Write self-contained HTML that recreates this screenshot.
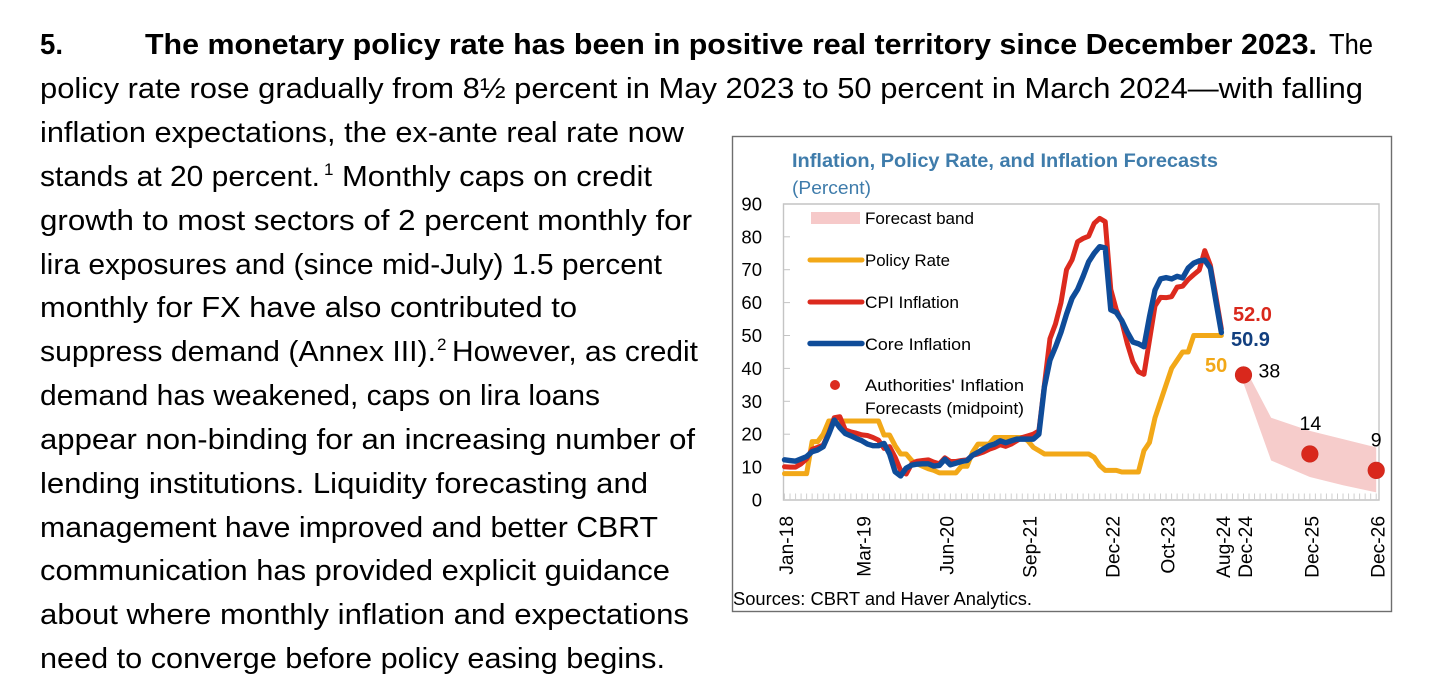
<!DOCTYPE html>
<html lang="en">
<head>
<meta charset="utf-8">
<title>Monetary policy rate paragraph and chart</title>
<style>
html,body{margin:0;padding:0;background:#fff;width:1456px;height:693px;overflow:hidden}
svg{display:block;position:absolute;left:0;top:0}
text{font-family:"Liberation Sans",sans-serif}
.b{font-size:29px;fill:#000}
.bb{font-size:29px;fill:#000;font-weight:bold}
.sup{font-size:17px;fill:#000}
.lg{font-size:16.8px;fill:#000}
.tk{font-size:18px;fill:#000}
</style>
</head>
<body>
<svg id="s" width="1456" height="693" viewBox="0 0 1456 693" xmlns="http://www.w3.org/2000/svg">
  <g>
    <text class="bb" x="40" y="54" textLength="23" lengthAdjust="spacingAndGlyphs">5.</text>
    <text class="bb" x="145" y="54" textLength="1172" lengthAdjust="spacingAndGlyphs">The monetary policy rate has been in positive real territory since December 2023.</text>
    <text class="b" x="1329" y="54" textLength="44" lengthAdjust="spacingAndGlyphs">The</text>
    <text class="b" x="40" y="98" textLength="1323" lengthAdjust="spacingAndGlyphs">policy rate rose gradually from 8½ percent in May 2023 to 50 percent in March 2024—with falling</text>
    <text class="b" x="40" y="142" textLength="644" lengthAdjust="spacingAndGlyphs">inflation expectations, the ex-ante real rate now</text>
    <text class="b" x="40" y="186" textLength="280" lengthAdjust="spacingAndGlyphs">stands at 20 percent.</text>
    <text class="sup" x="324" y="175">1</text>
    <text class="b" x="342" y="186" textLength="310" lengthAdjust="spacingAndGlyphs">Monthly caps on credit</text>
    <text class="b" x="40" y="230" textLength="652" lengthAdjust="spacingAndGlyphs">growth to most sectors of 2 percent monthly for</text>
    <text class="b" x="40" y="274" textLength="622" lengthAdjust="spacingAndGlyphs">lira exposures and (since mid-July) 1.5 percent</text>
    <text class="b" x="40" y="317" textLength="537" lengthAdjust="spacingAndGlyphs">monthly for FX have also contributed to</text>
    <text class="b" x="40" y="361" textLength="396" lengthAdjust="spacingAndGlyphs">suppress demand (Annex III).</text>
    <text class="sup" x="437" y="350">2</text>
    <text class="b" x="452" y="361" textLength="246" lengthAdjust="spacingAndGlyphs">However, as credit</text>
    <text class="b" x="40" y="405" textLength="560" lengthAdjust="spacingAndGlyphs">demand has weakened, caps on lira loans</text>
    <text class="b" x="40" y="449" textLength="655" lengthAdjust="spacingAndGlyphs">appear non-binding for an increasing number of</text>
    <text class="b" x="40" y="493" textLength="608" lengthAdjust="spacingAndGlyphs">lending institutions. Liquidity forecasting and</text>
    <text class="b" x="40" y="537" textLength="618" lengthAdjust="spacingAndGlyphs">management have improved and better CBRT</text>
    <text class="b" x="40" y="580" textLength="630" lengthAdjust="spacingAndGlyphs">communication has provided explicit guidance</text>
    <text class="b" x="40" y="624" textLength="649" lengthAdjust="spacingAndGlyphs">about where monthly inflation and expectations</text>
    <text class="b" x="40" y="668" textLength="625" lengthAdjust="spacingAndGlyphs">need to converge before policy easing begins.</text>
  </g>

  <rect x="732.5" y="136.5" width="659" height="475" fill="#fff" stroke="#6e6e6e" stroke-width="1.4"/>
  <text x="792" y="167" font-size="19.5" font-weight="bold" fill="#3f7cab" textLength="426" lengthAdjust="spacingAndGlyphs">Inflation, Policy Rate, and Inflation Forecasts</text>
  <text x="792" y="194" font-size="18.5" fill="#3f7cab" textLength="79" lengthAdjust="spacingAndGlyphs">(Percent)</text>

  <g id="plot"></g>

  <g>
    <rect x="811" y="212" width="49" height="12" fill="#f6c9c9"/>
    <text class="lg" x="865" y="224" textLength="109" lengthAdjust="spacingAndGlyphs">Forecast band</text>
    <line x1="810" y1="260" x2="862" y2="260" stroke="#f2a818" stroke-width="5" stroke-linecap="round"/>
    <text class="lg" x="865" y="266" textLength="85" lengthAdjust="spacingAndGlyphs">Policy Rate</text>
    <line x1="810" y1="302" x2="862" y2="302" stroke="#dc2a1e" stroke-width="5" stroke-linecap="round"/>
    <text class="lg" x="865" y="308" textLength="94" lengthAdjust="spacingAndGlyphs">CPI Inflation</text>
    <line x1="810" y1="343.5" x2="862" y2="343.5" stroke="#0f4c99" stroke-width="5.4" stroke-linecap="round"/>
    <text class="lg" x="865" y="350" textLength="106" lengthAdjust="spacingAndGlyphs">Core Inflation</text>
    <circle cx="835" cy="385" r="5" fill="#dc2a1e"/>
    <text class="lg" x="865" y="391" textLength="159" lengthAdjust="spacingAndGlyphs">Authorities' Inflation</text>
    <text class="lg" x="865" y="414" textLength="159" lengthAdjust="spacingAndGlyphs">Forecasts (midpoint)</text>
  </g>

  <text x="733" y="605" font-size="18" fill="#000" textLength="299" lengthAdjust="spacingAndGlyphs">Sources: CBRT and Haver Analytics.</text>
</svg>

<script>
var policyRate = [8,8,8,8,8,17.75,17.75,20,24,24,24,24,24,24,24,24,24,24,19.75,19.75,16.5,14,14,12,11,10.25,9.5,9,8.25,8.25,8.25,8.25,10.25,10.25,14.5,17,17,17,19,19,19,19,19,19,18,16,15,14,14,14,14,14,14,14,14,14,13,10.5,9,9,9,8.5,8.5,8.5,8.5,15,17.5,25,30,35,40,42.5,45,45,50,50,50,50,50,50];
var cpiInflation = [10.1,10,10,11,12.5,15.4,16,16.7,20.3,25,25.3,21.3,20.7,20.3,19.8,19.6,19,18.2,15.7,16.2,13,9,7.9,11,11.8,12,12.2,11.5,11,12.8,11.7,11.7,12,12.2,13.6,14,14.6,15.4,16,16.8,16.3,17,18,19,19.5,20,21,35,49,53.5,60,70,73,78.5,79.5,80.2,84.1,85.6,84.6,64,57.8,54.2,47.5,42,39,38.2,48.6,59,61.6,61.5,61.8,64.7,65,67,68.5,69.9,75.8,71.4,62,52];
var coreInflation = [12.2,12,11.8,12.5,13.2,14.7,15.2,16.2,20,24.3,22,20.2,19.5,18.7,18,17,16.5,16.5,17.2,14,8.6,7.3,9.7,10.6,10.9,11,11,10.3,10.5,12.4,10.7,11.2,11.7,12,13.6,14.5,15.5,16.5,17,18,17.4,18,18.5,18.5,18.5,18.5,20,34.4,42.5,46.5,51,56.5,61.3,64,68,72.4,75,77,76.6,57.8,57,54.5,51,48,47.5,46.6,55.7,63.8,67.2,67.6,67.2,68,67.5,70.5,72,72.7,72.9,70.5,60.5,50.9];
var bandMonths = [83,88,95,101,107];
var bandUpper = [41,25,21,18.5,16];
var bandLower = [35.5,12,7,4.5,2.3];
var forecastMonths = [83,95,107];
var forecastValues = [38,14,9];
var forecastLabels = ["38","14","9"];
var yTicks = [0,10,20,30,40,50,60,70,80,90];
var xLabelMonths = [0,14,29,44,59,69,79,83,95,107];
var xLabels = ["Jan-18","Mar-19","Jun-20","Sep-21","Dec-22","Oct-23","Aug-24","Dec-24","Dec-25","Dec-26"];
var monthCount = 108;

var NS = "http://www.w3.org/2000/svg";
var plot = document.getElementById("plot");
function xAt(m){ return 784.5 + m * 5.53; }
function yAt(v){ return 500 - v * 3.29; }
function mk(tag, attrs, parent){
  var el = document.createElementNS(NS, tag);
  for (var k in attrs) el.setAttribute(k, attrs[k]);
  (parent || plot).appendChild(el);
  return el;
}

var frameEl = mk("path", {d:"M783.5 204H1379V500H783.5Z", fill:"none", stroke:"#c4c4c4", "stroke-width":1.4});



yTicks.forEach(function(v){
  if (v > 0 && v < 90) {
    var t = mk("line", {x1:783.5, x2:790, y1:yAt(v), y2:yAt(v), stroke:"#c4c4c4", "stroke-width":1});
    
    
  }
  var lb = mk("text", {x:762, y:yAt(v) + 6.5, "text-anchor":"end", "class":"tk", style:"font-size:18.5px"});
  lb.textContent = String(v);
  
  
});

for (var m = 0; m < monthCount; m++) {
  var tick = mk("line", {x1:xAt(m), x2:xAt(m), y1:500, y2:493.5, stroke:"#cfcfcf", "stroke-width":1});
  
  
}

xLabels.forEach(function(s, i){
  var px = xAt(xLabelMonths[i]) + 8.5;
  var lb = mk("text", {x:px, y:516, "text-anchor":"end", "class":"tk", transform:"rotate(-90 " + px + " 516)", style:"font-size:19.2px"});
  lb.textContent = s;
  
  
});

var bandPts = [];
bandMonths.forEach(function(m, i){ bandPts.push(xAt(m) + "," + yAt(bandUpper[i])); });
for (var j = bandMonths.length - 1; j >= 0; j--) { bandPts.push(xAt(bandMonths[j]) + "," + yAt(bandLower[j])); }
var band = mk("polygon", {points:bandPts.join(" "), fill:"#f6cccb"});



function linePts(arr){
  return arr.map(function(v, i){ return xAt(i).toFixed(2) + "," + yAt(v).toFixed(2); }).join(" ");
}
var policyLine = mk("polyline", {points:linePts(policyRate), fill:"none", stroke:"#f2a818", "stroke-width":5, "stroke-linejoin":"round", "stroke-linecap":"round"});


var cpiLine = mk("polyline", {points:linePts(cpiInflation), fill:"none", stroke:"#dc2a1e", "stroke-width":5, "stroke-linejoin":"round", "stroke-linecap":"round"});


var coreLine = mk("polyline", {points:linePts(coreInflation), fill:"none", stroke:"#0f4c99", "stroke-width":5.4, "stroke-linejoin":"round", "stroke-linecap":"round"});



forecastMonths.forEach(function(m, i){
  var c = mk("circle", {cx:xAt(m), cy:yAt(forecastValues[i]), r:8.3, fill:"#d9281c", stroke:"#c9281c", "stroke-width":0.6});
  
  
});

var t38 = mk("text", {x:xAt(forecastMonths[0]) + 15, y:yAt(forecastValues[0]) + 2.5, "class":"tk", style:"font-size:19.5px"});
t38.textContent = forecastLabels[0];


var t14 = mk("text", {x:xAt(forecastMonths[1]) + 0.5, y:yAt(forecastValues[1]) - 24, "text-anchor":"middle", "class":"tk", style:"font-size:19.5px"});
t14.textContent = forecastLabels[1];


var t9 = mk("text", {x:xAt(forecastMonths[2]), y:yAt(forecastValues[2]) - 24, "text-anchor":"middle", "class":"tk", style:"font-size:19.5px"});
t9.textContent = forecastLabels[2];



var cpiEnd = mk("text", {x:1233, y:321, "font-size":20, "font-weight":"bold", fill:"#d9281c"});
cpiEnd.textContent = cpiInflation[cpiInflation.length - 1].toFixed(1);


var coreEnd = mk("text", {x:1231, y:346, "font-size":20, "font-weight":"bold", fill:"#123f7f"});
coreEnd.textContent = coreInflation[coreInflation.length - 1].toFixed(1);


var policyEnd = mk("text", {x:1205, y:372, "font-size":20, "font-weight":"bold", fill:"#f2a818"});
policyEnd.textContent = String(policyRate[policyRate.length - 1]);


</script>
</body>
</html>
